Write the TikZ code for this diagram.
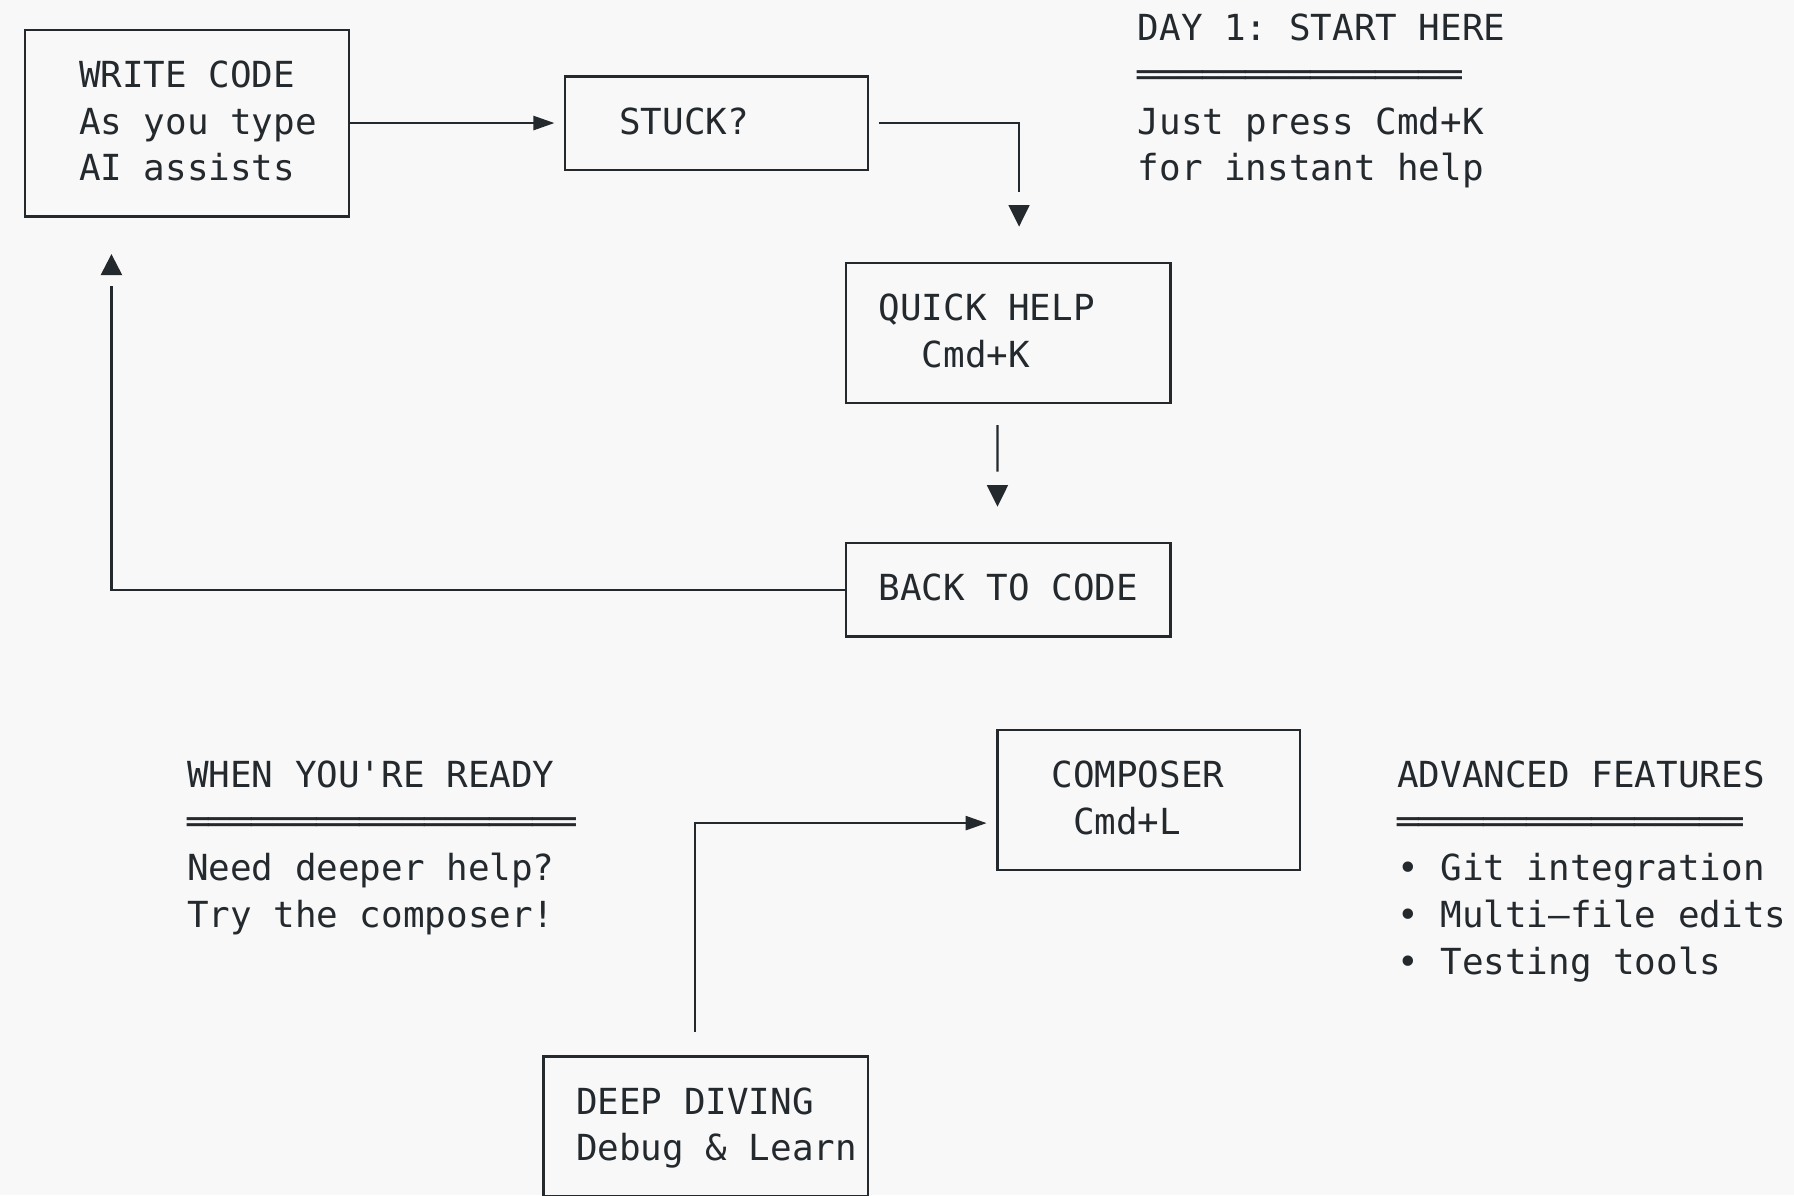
\documentclass[tikz,border=0pt]{standalone}
\usepackage{fontspec}
\newfontfamily\mono{DejaVu Sans Mono}
\usetikzlibrary{arrows.meta}
\definecolor{ink}{RGB}{36,41,46}
\definecolor{bg}{RGB}{248,248,248}
\frenchspacing
% grid helpers (pixels): column left edge, text baseline, line height of box rules
\newcommand\gx[1]{(14.2+21.61*(#1))}
\newcommand\gb[1]{(5+46.67*(#1)+35.7)}
\newcommand\gl[1]{(5+46.67*(#1)+24.7)}
\tikzset{
  box/.style={draw=ink, line width=2.4pt, inner sep=0pt, outer sep=0pt, anchor=north west},
  lbl/.style={text=ink, font=\mono\fontsize{35.9pt}{46.67pt}\selectfont\frenchspacing, inner sep=0pt, outer sep=0pt, anchor=base west},
  conn/.style={draw=ink, line width=2.4pt},
  harrow/.style={-{Triangle[length=21pt,width=14pt]}},
  varrow/.style={-{Triangle[length=21.5pt,width=20.7pt]}},
}
\begin{document}
\begin{tikzpicture}[x=1pt,y=-1pt]
\useasboundingbox (0,0) rectangle (1794,1195);
\clip (0,0) rectangle (1794,1195);
\fill[bg] (0,0) rectangle (1794,1195);

% boxes
\node[box, minimum width={15*21.61pt}, minimum height={4*46.67pt}] (write) at ({\gx{0.5}},{\gl{0}}) {};
\node[box, minimum width={14*21.61pt}, minimum height={2*46.67pt}] (stuck) at ({\gx{25.5}},{\gl{1}}) {};
\node[box, minimum width={15*21.61pt}, minimum height={3*46.67pt}] (quick) at ({\gx{38.5}},{\gl{5}}) {};
\node[box, minimum width={15*21.61pt}, minimum height={2*46.67pt}] (back) at ({\gx{38.5}},{\gl{11}}) {};
\node[box, minimum width={14*21.61pt}, minimum height={3*46.67pt}] (composer) at ({\gx{45.5}},{\gl{15}}) {};
\node[box, minimum width={15*21.61pt}, minimum height={3*46.67pt}] (deep) at ({\gx{24.5}},{\gl{22}}) {};

% box texts
\node[lbl] (t-write1) at ({\gx{3}},{\gb{1}}) {WRITE CODE};
\node[lbl] (t-write2) at ({\gx{3}},{\gb{2}}) {As you type};
\node[lbl] (t-write3) at ({\gx{3}},{\gb{3}}) {AI assists};
\node[lbl] (t-stuck) at ({\gx{28}},{\gb{2}}) {STUCK?};
\node[lbl] (t-quick1) at ({\gx{40}},{\gb{6}}) {QUICK HELP};
\node[lbl] (t-quick2) at ({\gx{42}},{\gb{7}}) {Cmd+K};
\node[lbl] (t-back) at ({\gx{40}},{\gb{12}}) {BACK TO CODE};
\node[lbl] (t-comp1) at ({\gx{48}},{\gb{16}}) {COMPOSER};
\node[lbl] (t-comp2) at ({\gx{49}},{\gb{17}}) {Cmd+L};
\node[lbl] (t-deep1) at ({\gx{26}},{\gb{23}}) {DEEP DIVING};
\node[lbl] (t-deep2) at ({\gx{26}},{\gb{24}}) {Debug \& Learn};

% side notes
\node[lbl] (n-day1) at ({\gx{52}},{\gb{0}}) {DAY 1: START HERE};
\node[lbl] (n-day2) at ({\gx{52}},{\gb{1}}) {═══════════════};
\node[lbl] (n-day3) at ({\gx{52}},{\gb{2}}) {Just press Cmd+K};
\node[lbl] (n-day4) at ({\gx{52}},{\gb{3}}) {for instant help};

\node[lbl] (n-ready1) at ({\gx{8}},{\gb{16}}) {WHEN YOU'RE READY};
\node[lbl] (n-ready2) at ({\gx{8}},{\gb{17}}) {══════════════════};
\node[lbl] (n-ready3) at ({\gx{8}},{\gb{18}}) {Need deeper help?};
\node[lbl] (n-ready4) at ({\gx{8}},{\gb{19}}) {Try the composer!};

\node[lbl] (n-adv1) at ({\gx{64}},{\gb{16}}) {ADVANCED FEATURES};
\node[lbl] (n-adv2) at ({\gx{64}},{\gb{17}}) {════════════════};
\node[lbl] (n-adv3) at ({\gx{64}},{\gb{18}}) {• Git integration};
\node[lbl] (n-adv4) at ({\gx{64}},{\gb{19}}) {• Multi–file edits};
\node[lbl] (n-adv5) at ({\gx{64}},{\gb{20}}) {• Testing tools};

% connector end points (arrow tips)
\coordinate (qtip) at ({\gx{46.5}},{5+46.67*4+35});
\coordinate (btip) at ({\gx{45.5}},{5+46.67*10+35});
\coordinate (wtip) at ({\gx{4.5}},{5+46.67*5+15.7});
\coordinate (ctip) at ({\gx{45}},{\gl{17}});

% connectors
\draw[conn, harrow] (write.east) -- ([xshift=-10.8pt]stuck.west);

\draw[conn, shorten >=35pt] ([xshift=10.8pt]stuck.east) -| (qtip);
\draw[conn, varrow] ([yshift=21.5pt]qtip) -- (qtip);

\draw[conn, shorten >=35pt] ([xshift=-10.8pt,yshift=-22pt]quick.south) -- (btip);
\draw[conn, varrow] ([yshift=21.5pt]btip) -- (btip);

\draw[conn, shorten >=31.5pt] (back.west) -| (wtip);
\draw[conn, -{Triangle[length=21pt,width=21pt]}] ([yshift=-21pt]wtip) -- (wtip);

\draw[conn, harrow] ([xshift=-10.8pt,yshift=24.7pt]deep.north) |- (ctip);
\end{tikzpicture}
\end{document}
